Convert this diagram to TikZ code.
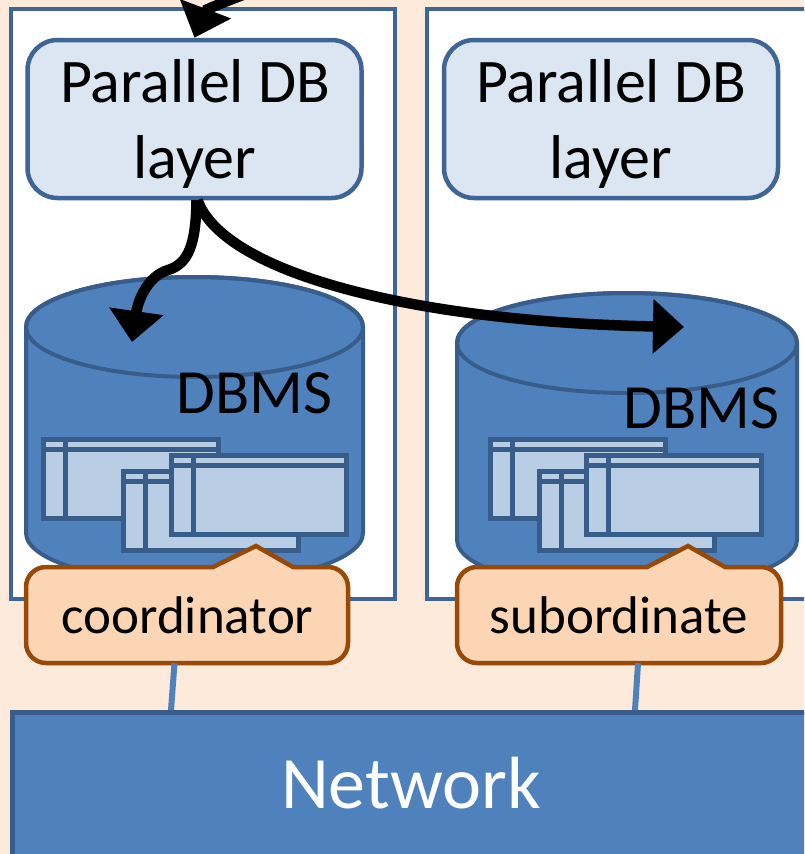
\documentclass[tikz,border=0pt]{standalone}
\usepackage{fontspec}
\setmainfont{Carlito}
\usetikzlibrary{arrows.meta,calc}
\definecolor{bgpeach}{HTML}{FDEADA}
\definecolor{boxline}{HTML}{3E6596}
\definecolor{pdbfill}{HTML}{DCE6F2}
\definecolor{cylfill}{HTML}{4F81BD}
\definecolor{cylline}{HTML}{385D8A}
\definecolor{winlight}{HTML}{B9CDE5}
\definecolor{callfill}{HTML}{FCD5B5}
\definecolor{callline}{HTML}{984807}
\begin{document}
\begin{tikzpicture}[x=1pt,y=-1pt,
  hostbox/.style={draw=boxline,line width=4.5pt,fill=white},
  pdb/.style={draw=boxline,line width=4.5pt,fill=pdbfill,rounded corners=30pt,minimum width=334pt,minimum height=158pt,inner sep=0pt},
  pdbtext/.style={font=\fontsize{62}{62}\selectfont,inner sep=0pt},
  cyl/.style={draw=cylline,line width=4pt,fill=cylfill},
  wbody/.style={draw=cylline,line width=5pt,fill=winlight},
  wline/.style={draw=cylline,line width=5pt},
  dbms/.style={font=\fontsize{63}{63}\selectfont,inner sep=0pt},
  callout/.style={draw=callline,line width=4.5pt,fill=callfill},
  calltext/.style={font=\fontsize{53}{53}\selectfont,inner sep=0pt,minimum width=322pt,minimum height=96pt},
  netline/.style={draw=cylfill,line width=6pt},
  netbox/.style={draw=cylline,line width=4.5pt,fill=cylfill,minimum width=820pt,minimum height=170pt,inner sep=0pt},
  nettext/.style={font=\fontsize{74}{74}\selectfont,text=white,inner sep=0pt},
  flow/.style={line width=10.5pt,-{Triangle[length=31pt,width=53pt]}},
  dbwin/.pic={
    \path[wbody] (2.5,2.5) rectangle (177.5,81.5);
    \draw[wline] (0,12.2) -- (180,12.2);
    \draw[wline] (24,0) -- (24,84);
  }]
\useasboundingbox (0,0) rectangle (804,854);
\clip (0,0) rectangle (804,854);
\fill[bgpeach] (0,0) rectangle (804,854);

% host boxes
\path[hostbox] (11,9) rectangle (395,599);
\path[hostbox] (427,9) rectangle (830,599);

% parallel DB layers
\node[pdb] (pdbL) at (194.5,119) {};
\node[pdbtext,anchor=base] (pdbL1) at (195,102) {Parallel DB};
\node[pdbtext,anchor=base] (pdbL2) at (195,178) {layer};
\node[pdb] (pdbR) at (611,119) {};
\node[pdbtext,anchor=base] (pdbR1) at (611,102) {Parallel DB};
\node[pdbtext,anchor=base] (pdbR2) at (611,178) {layer};

% cylinders
\path[cyl] (26,327) -- (26,533) arc[start angle=180,end angle=0,x radius=168.5,y radius=50]
  -- (363,327) arc[start angle=0,end angle=-180,x radius=168.5,y radius=50] -- cycle;
\draw[cyl,fill=none] (194.5,327) ellipse[x radius=168.5,y radius=50];
\path[cyl] (457,343) -- (457,540) arc[start angle=180,end angle=0,x radius=170,y radius=50]
  -- (797,343) arc[start angle=0,end angle=-180,x radius=170,y radius=50] -- cycle;
\draw[cyl,fill=none] (627,343) ellipse[x radius=170,y radius=50];

% windows
\pic at (41,437) {dbwin};
\pic at (121,469) {dbwin};
\pic at (169,453) {dbwin};
\pic at (488,437) {dbwin};
\pic at (537,469) {dbwin};
\pic at (584,453) {dbwin};

\node[dbms,anchor=base east] (dbmsL) at (333,413) {DBMS};
\node[dbms,anchor=base east] (dbmsR) at (780,428) {DBMS};

% callouts
\path[callout] (26,587) arc[start angle=180,end angle=270,radius=20] -- (213,567) -- (256,546) -- (293,567)
  -- (328,567) arc[start angle=270,end angle=360,radius=20] -- (348,643)
  arc[start angle=0,end angle=90,radius=20] -- (46,663) arc[start angle=90,end angle=180,radius=20] -- cycle;
\path[callout] (457,587) arc[start angle=180,end angle=270,radius=20] -- (647,567) -- (688,546) -- (725,567)
  -- (761,567) arc[start angle=270,end angle=360,radius=20] -- (781,643)
  arc[start angle=0,end angle=90,radius=20] -- (477,663) arc[start angle=90,end angle=180,radius=20] -- cycle;
\node[calltext] (coordL) at (187.5,615) {coordinator};
\node[calltext] (subR) at (619,615) {subordinate};

% network
\node[netbox,anchor=north west] (net) at (10,710) {};
\node[nettext,anchor=base] (nettxt) at (411,808) {Network};
\draw[netline] ([xshift=-13pt]coordL.south) -- ([xshift=161pt]net.north west);
\draw[netline] ([xshift=19pt]subR.south) -- ([xshift=625pt]net.north west);

% flows
\coordinate (dbL) at (132,342);
\coordinate (dbR) at (684,327);
\coordinate (topsrc) at (285,-20);
\draw[flow] ([xshift=2pt]pdbL.south) .. controls (196,245) and (188,264) .. (168,270)
  .. controls (148,276) and (138,300) .. (dbL);
\draw[flow] ([xshift=3pt]pdbL.south) .. controls (225,275) and (420,322) .. (dbR);
\draw[flow] (topsrc) .. controls (240,-5) and (205,10) .. (pdbL.north);
\end{tikzpicture}
\end{document}
